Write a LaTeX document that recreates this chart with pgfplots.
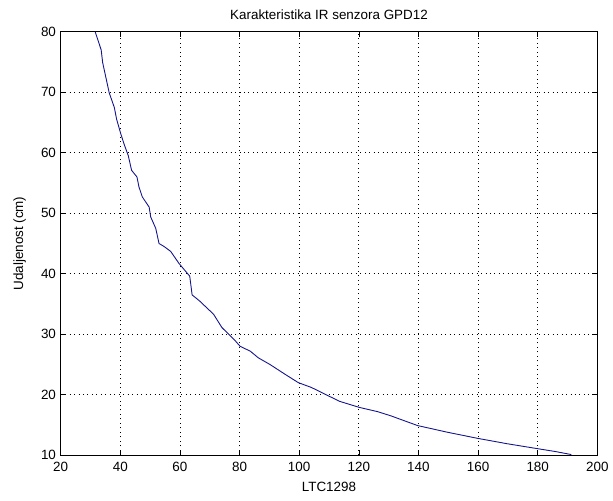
\documentclass[border=0pt]{standalone}
\usepackage{fontspec}
\setmainfont{Liberation Sans}
\usepackage{pgfplots}
\pgfplotsset{compat=1.18}
\begin{document}
\fontsize{13.5}{15}\selectfont
\begin{tikzpicture}
\begin{axis}[
  scale only axis,
  width=540pt, height=426pt,
  xmin=20, xmax=200, ymin=10, ymax=80,
  xtick={20,40,...,200}, ytick={10,20,...,80},
  grid=major,
  major grid style={black, line width=0.7pt, dash pattern=on 1pt off 3.5pt},
  tick align=inside,
  tick pos=both,
  major tick length=5pt,
  axis line style={black, line width=0.6pt},
  tick style={black, line width=0.6pt},
  ticklabel style={font=\fontsize{13.5}{15}\selectfont},
  xticklabel style={yshift=-2pt},
  /pgf/number format/assume math mode=true,
  title={Karakteristika IR senzora GPD12},
  title style={font=\fontsize{13.5}{15}\selectfont, yshift=2pt},
  xlabel={LTC1298},
  ylabel={Udaljenost (cm)},
  label style={font=\fontsize{13.5}{15}\selectfont},
  xlabel style={yshift=-2pt},
  ylabel style={yshift=6pt},
]
\addplot[color={rgb,255:red,20;green,20;blue,140}, line width=0.9pt] coordinates {
(31.6,80.0) (33.6,77.0) (34.1,74.9) (35.2,72.4) (36.3,69.9) (38.0,67.5)
(38.8,65.5) (40.2,63.1) (41.3,61.4) (42.7,59.5) (43.8,57.1) (45.6,56.0)
(46.3,54.3) (47.4,52.7) (49.7,51.0) (50.2,49.4) (51.9,47.5) (53.0,45.0)
(54.7,44.5) (56.9,43.7) (59.7,41.7) (63.3,39.6) (64.1,36.5) (66.6,35.5)
(71.3,33.3) (74.1,31.1) (78.6,28.9) (80.2,28.0) (83.6,27.2) (86.3,26.1)
(90.2,25.0) (95.2,23.4) (99.7,22.0) (104.1,21.2) (108.6,20.1) (113.6,18.9)
(120.2,17.9) (126.3,17.2) (130.8,16.5) (139.7,14.9) (149.7,13.8) (159.7,12.8)
(169.7,11.9) (179.7,11.1) (186.0,10.6) (191.3,10.1)
};
\end{axis}
\path (current axis.south west) ++(-61pt,-46pt) coordinate (bbA);
\path (current axis.north east) ++(12pt,32pt) coordinate (bbB);
\useasboundingbox (bbA) rectangle (bbB);
\end{tikzpicture}
\end{document}
